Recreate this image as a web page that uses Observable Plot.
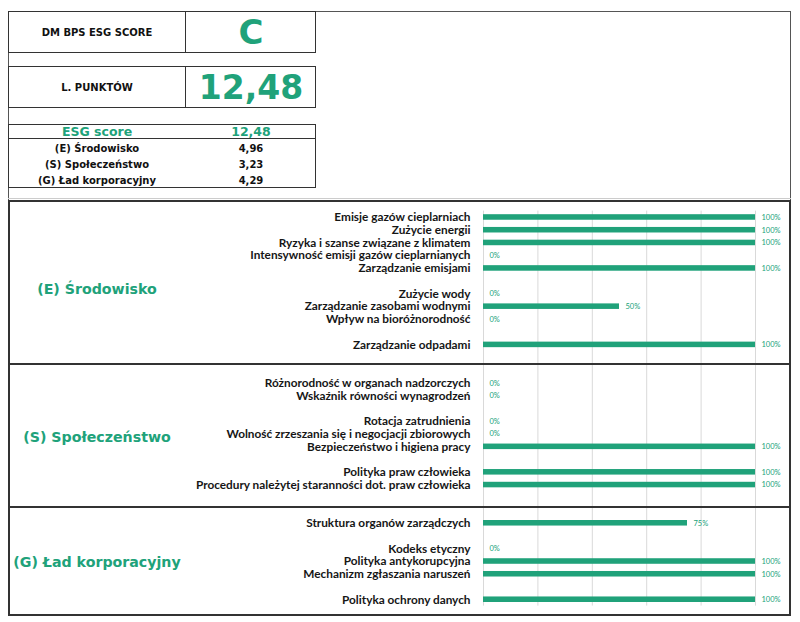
<!DOCTYPE html>
<html>
<head>
<meta charset="utf-8">
<script src="https://cdn.jsdelivr.net/npm/d3@7"></script>
<script src="https://cdn.jsdelivr.net/npm/@observablehq/plot@0.6"></script>
<style>
  body { margin: 0; background: #fff; }
  #wrap { position: relative; width: 800px; height: 622px; overflow: hidden; font-family: "DejaVu Sans", sans-serif; }
  .box { position: absolute; box-sizing: border-box; }
  .cell { position: absolute; display: flex; align-items: center; justify-content: center; font-weight: bold; white-space: nowrap; }
  .hl { position: absolute; background: #333; }
</style>
</head>
<body>
<div id="wrap"></div>
<script>
// ---------- data ----------
const headerLabels = ["DM BPS ESG SCORE", "L. PUNKTÓW"];
const headerValues = ["C", "12,48"];
const scoreLabels = ["ESG score", "(E) Środowisko", "(S) Społeczeństwo", "(G) Ład korporacyjny"];
const scoreValues = ["12,48", "4,96", "3,23", "4,29"];

const sectionNames = ["(E) Środowisko", "(S) Społeczeństwo", "(G) Ład korporacyjny"];

const envItems = ["Emisje gazów cieplarniach", "Zużycie energii", "Ryzyka i szanse związane z klimatem",
  "Intensywność emisji gazów cieplarnianych", "Zarządzanie emisjami", null, "Zużycie wody",
  "Zarządzanie zasobami wodnymi", "Wpływ na bioróżnorodność", null, "Zarządzanie odpadami"];
const envValues = [100, 100, 100, 0, 100, null, 0, 50, 0, null, 100];

const socItems = ["Różnorodność w organach nadzorczych", "Wskaźnik równości wynagrodzeń", null,
  "Rotacja zatrudnienia", "Wolność zrzeszania się i negocjacji zbiorowych", "Bezpieczeństwo i higiena pracy", null,
  "Polityka praw człowieka", "Procedury należytej staranności dot. praw człowieka"];
const socValues = [0, 0, null, 0, 0, 100, null, 100, 100];

const govItems = ["Struktura organów zarządczych", null, "Kodeks etyczny", "Polityka antykorupcyjna",
  "Mechanizm zgłaszania naruszeń", null, "Polityka ochrony danych"];
const govValues = [75, null, 0, 100, 100, null, 100];

const xTicks = [0, 20, 40, 60, 80, 100];

const green = "#20a27a";

// ---------- build rows (spacers keep section gaps) ----------
const rows = [];
let sp = 0;
const addSection = (items, values) => {
  items.forEach((name, i) => {
    rows.push({key: name ?? `_sp${sp++}`, label: name ?? "", value: values[i]});
  });
};
addSection(envItems, envValues);
rows.push({key: `_sp${sp++}`, label: "", value: null});
rows.push({key: `_sp${sp++}`, label: "", value: null});
addSection(socItems, socValues);
rows.push({key: `_sp${sp++}`, label: "", value: null});
rows.push({key: `_sp${sp++}`, label: "", value: null});
addSection(govItems, govValues);
const domain = rows.map(d => d.key);
const valued = rows.filter(d => d.value != null);

// ---------- layout helpers ----------
const wrap = document.getElementById("wrap");
function el(cls, css, text) {
  const d = document.createElement("div");
  d.className = cls;
  Object.assign(d.style, css);
  if (text != null) d.textContent = text;
  wrap.appendChild(d);
  return d;
}

// chart
const chart = Plot.plot({
  width: 800,
  height: 422,
  marginLeft: 483,
  marginRight: 45,
  marginTop: 10.6,
  marginBottom: 16.4,
  style: {fontFamily: "Lato, sans-serif", background: "transparent"},
  x: {domain: [0, 100], axis: null},
  y: {domain, axis: null, padding: 0, round: false},
  marks: [
    Plot.gridX(xTicks, {stroke: "#d9d9d9", strokeOpacity: 1, strokeWidth: 1}),
    Plot.barX(valued.filter(d => d.value > 0), {x: "value", y: "key", fill: green, insetTop: 3.6, insetBottom: 3.6}),
    Plot.text(valued, {x: "value", y: "key", text: d => d.value + "%", dx: 6, textAnchor: "start", fill: green, fontSize: 7.5}),
    Plot.axisY({tickSize: 0, tickPadding: 13, label: null, tickFormat: k => (k.startsWith("_sp") ? "" : k), fontWeight: "bold", fontSize: 11.8, fill: "#161616"})
  ]
});
const holder = el("box", {left: "0px", top: "200px", width: "800px", height: "422px"});
holder.appendChild(chart);

// outer frame
el("box", {left: "8px", top: "11px", width: "783px", height: "605px", border: "1px solid #555"});

// header boxes
const headerTops = [11, 66];
headerLabels.forEach((lab, i) => {
  const t = headerTops[i];
  el("box", {left: "8px", top: t + "px", width: "308px", height: "42px", border: "1px solid #333"});
  el("box", {left: "185px", top: t + "px", width: "1px", height: "42px", background: "#333"});
  el("cell", {left: "8px", top: t + "px", width: "178px", height: "42px", fontSize: "10px", color: "#111"}, lab);
  el("cell", {left: "186px", top: t + "px", width: "130px", height: "42px", fontSize: i === 0 ? "34px" : "33px", color: green}, headerValues[i]);
});

// score table
el("box", {left: "8px", top: "124px", width: "308px", height: "64px", border: "1px solid #333"});
el("hl", {left: "8px", top: "138px", width: "308px", height: "1px"});
const rowTops = [124, 140, 156, 172];
const rowH = [14, 16, 16, 16];
scoreLabels.forEach((lab, i) => {
  const first = i === 0;
  el("cell", {left: "8px", top: rowTops[i] + "px", width: "178px", height: rowH[i] + "px",
    fontSize: first ? "12.5px" : "10px", color: first ? green : "#111"}, lab);
  el("cell", {left: "186px", top: rowTops[i] + "px", width: "130px", height: rowH[i] + "px",
    fontSize: first ? "12.5px" : "10px", color: first ? green : "#111"}, scoreValues[i]);
});

// section frames
el("box", {left: "8px", top: "200px", width: "783px", height: "416px", border: "2px solid #333"});
el("hl", {left: "8px", top: "363px", width: "783px", height: "2px"});
el("hl", {left: "8px", top: "506px", width: "783px", height: "2px"});
// faint line above sections
el("hl", {left: "8px", top: "198px", width: "783px", height: "1px", background: "#ccc"});

// section titles
const titleCenters = [289, 436.5, 561.5];
sectionNames.forEach((name, i) => {
  el("cell", {left: "8px", top: (titleCenters[i] - 12) + "px", width: "178px", height: "24px",
    fontSize: "14.2px", color: green}, name);
});
</script>
</body>
</html>
